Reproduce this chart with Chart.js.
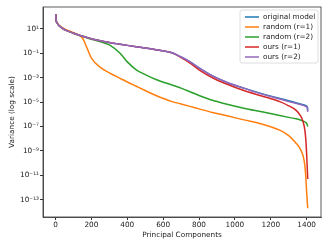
<!DOCTYPE html>
<html lang="en">
<head>
  <meta charset="UTF-8">
  <title>Variance per principal component</title>
  <script src="https://cdn.jsdelivr.net/npm/chart.js"></script>
  <style>
    html, body { margin: 0; padding: 0; background: #fff; }
  </style>
</head>
<body>
  <canvas id="varChart" width="329" height="247"></canvas>
  <script>
    // principal component index (x) shared by all series
    const components = [1, 3, 8, 20, 50, 100, 150, 175, 200, 250, 300, 360, 400, 450, 500, 560, 650, 700,
      750, 800, 875, 950, 1050, 1150, 1250, 1300, 1340, 1365, 1380, 1390, 1396, 1400, 1404, 1406];

    // variance
    const originalModel = [1.6e2, 5.6e1, 3.2e1, 1.8e1, 8.9, 4.5, 2.5, 2.0, 1.6, 1.1, 7.9e-1, 5.6e-1, 4.5e-1, 3.5e-1,
      2.8e-1, 2.0e-1, 1.1e-1, 5.0e-2, 2.0e-2, 6.3e-3, 1.4e-3, 4.5e-4, 1.4e-4, 5.0e-5, 2.0e-5, 1.3e-5, 9.0e-6,
      7.2e-6, 6.2e-6, 5.6e-6, 5.1e-6, 4.7e-6, 3.8e-6, 2.0e-6];
    const randomR1 = [1.6e2, 6.3e1, 3.5e1, 2.0e1, 1.0e1, 5.0, 1.8, 2.8e-1, 4.0e-2, 7.1e-3, 2.5e-3, 8.9e-4, 4.5e-4,
      2.0e-4, 8.9e-5, 3.5e-5, 1.1e-5, 7.1e-6, 4.5e-6, 2.8e-6, 1.4e-6, 7.9e-7, 3.5e-7, 1.6e-7, 5.0e-8, 1.8e-8,
      4.5e-9, 1.4e-9, 4.0e-10, 6.3e-11, 5.0e-12, 4.0e-13, 5.0e-14, 2.0e-14];
    const randomR2 = [1.6e2, 5.6e1, 3.2e1, 1.8e1, 8.9, 4.5, 2.5, 1.9, 1.4, 8.9e-1, 5.0e-1, 1.0e-1, 2.0e-2, 4.5e-3,
      1.8e-3, 7.1e-4, 2.5e-4, 1.4e-4, 7.1e-5, 3.5e-5, 1.4e-5, 7.1e-6, 3.2e-6, 1.6e-6, 7.9e-7, 5.6e-7, 4.3e-7,
      3.4e-7, 2.8e-7, 2.4e-7, 2.1e-7, 1.8e-7, 1.3e-7, 1.0e-7];
    const oursR1 = [1.6e2, 5.6e1, 3.2e1, 1.8e1, 8.9, 4.5, 2.5, 2.0, 1.6, 1.1, 7.9e-1, 5.6e-1, 4.5e-1, 3.5e-1,
      2.8e-1, 2.0e-1, 1.1e-1, 4.5e-2, 1.6e-2, 4.5e-3, 1.0e-3, 3.2e-4, 8.9e-5, 3.2e-5, 1.1e-5, 5.0e-6, 2.2e-6,
      7.9e-7, 2.5e-7, 5.0e-8, 6.3e-9, 5.0e-10, 2.5e-11, 5.0e-12];
    const oursR2 = [1.6e2, 5.6e1, 3.2e1, 1.8e1, 8.9, 4.5, 2.5, 2.0, 1.6, 1.1, 7.9e-1, 5.6e-1, 4.5e-1, 3.5e-1,
      2.8e-1, 2.0e-1, 1.1e-1, 5.0e-2, 2.0e-2, 6.3e-3, 1.4e-3, 4.5e-4, 1.4e-4, 4.5e-5, 1.8e-5, 1.1e-5, 7.9e-6,
      6.3e-6, 5.4e-6, 4.8e-6, 4.4e-6, 4.0e-6, 3.2e-6, 1.6e-6];

    const seriesLabels = ['original model', 'random (r=1)', 'random (r=2)', 'ours (r=1)', 'ours (r=2)'];
    const xTicks = [0, 200, 400, 600, 800, 1000, 1200, 1400];
    const yTickExps = [-13, -11, -9, -7, -5, -3, -1, 1];
    const yTickLabels = ['10⁻¹³', '10⁻¹¹', '10⁻⁹', '10⁻⁷', '10⁻⁵', '10⁻³', '10⁻¹', '10¹'];

    const colors = ['#1f77b4', '#ff7f0e', '#2ca02c', '#d62728', '#9467bd'];
    const allSeries = [originalModel, randomR1, randomR2, oursR1, oursR2];

    Chart.defaults.font.family = 'DejaVu Sans';
    Chart.defaults.font.size = 7.3;
    Chart.defaults.color = '#222';

    // matplotlib style box round the axes
    const frame = {
      id: 'frame',
      afterDatasetsDraw(chart) {
        const a = chart.chartArea, c = chart.ctx;
        c.save();
        c.strokeStyle = '#333';
        c.lineWidth = 0.8;
        c.strokeRect(a.left, a.top, a.right - a.left, a.bottom - a.top);
        c.restore();
      }
    };

    // legend box in the upper right corner
    const boxLegend = {
      id: 'boxLegend',
      afterDraw(chart) {
        const c = chart.ctx;
        const x0 = 240, y0 = 10, w = 78, h = 53, rowH = 10;
        c.save();
        c.beginPath();
        c.roundRect(x0, y0, w, h, 2);
        c.fillStyle = 'rgba(255,255,255,0.8)';
        c.fill();
        c.strokeStyle = '#d6d6d6';
        c.lineWidth = 0.8;
        c.stroke();
        c.font = '7.3px "DejaVu Sans"';
        c.textBaseline = 'middle';
        c.fillStyle = '#222';
        seriesLabels.forEach((lab, i) => {
          const y = y0 + 7 + i * rowH;
          c.strokeStyle = colors[i];
          c.lineWidth = 1.5;
          c.beginPath();
          c.moveTo(x0 + 5, y);
          c.lineTo(x0 + 19, y);
          c.stroke();
          c.fillText(lab, x0 + 23, y);
        });
        c.restore();
      }
    };

    const ctx = document.getElementById('varChart').getContext('2d');

    new Chart(ctx, {
      type: 'line',
      data: {
        datasets: allSeries.map((vals, i) => ({
          label: seriesLabels[i],
          data: components.map((c, j) => ({ x: c, y: vals[j] })),
          borderColor: colors[i],
          borderWidth: 1.5,
          pointRadius: 0,
          cubicInterpolationMode: 'monotone',
          order: allSeries.length - i,
        })),
      },
      options: {
        responsive: false,
        animation: false,
        devicePixelRatio: 1,
        layout: { padding: { top: 7, right: 8, left: 0, bottom: 8 } },
        plugins: {
          legend: { display: false },
          tooltip: { enabled: false },
        },
        scales: {
          x: {
            type: 'linear',
            min: -70,
            max: 1480,
            afterBuildTicks: s => { s.ticks = xTicks.map(v => ({ value: v })); },
            afterFit: s => { s.height = 22; },
            ticks: { autoSkip: false, maxRotation: 0, padding: 1, callback: v => String(v) },
            grid: { drawOnChartArea: false, tickLength: 3, color: '#333' },
            border: { color: '#333', width: 0.8 },
            title: { display: true, text: 'Principal Components', padding: { top: 0, bottom: 0 } },
          },
          y: {
            type: 'logarithmic',
            min: Math.pow(10, -14.42),
            max: Math.pow(10, 2.8),
            afterBuildTicks: s => { s.ticks = yTickExps.map(e => ({ value: Math.pow(10, e) })); },
            afterFit: s => { s.width = 43; },
            ticks: { autoSkip: false, padding: 1, callback: (v, i) => yTickLabels[i] },
            grid: { drawOnChartArea: false, tickLength: 3, color: '#333' },
            border: { color: '#333', width: 0.8 },
            title: { display: true, text: 'Variance (log scale)', padding: { top: 8, bottom: 0 } },
          },
        },
      },
      plugins: [frame, boxLegend],
    });
  </script>
</body>
</html>
